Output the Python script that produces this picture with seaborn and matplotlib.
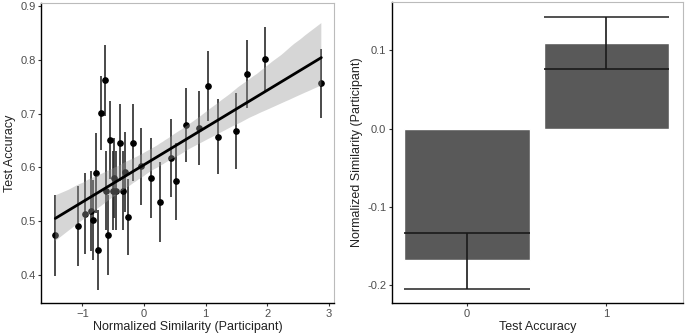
import matplotlib
matplotlib.use("Agg")
import matplotlib.pyplot as plt
import seaborn as sns
import numpy as np
import pandas as pd

# Painel esquerdo: similaridade normalizada x acurácia (média por item, barra de erro)
sim = [-1.44, -1.065, -0.957, -0.865, -0.83, -0.78, -0.74, -0.70, -0.64, -0.62,
       -0.59, -0.55, -0.51, -0.48, -0.46, -0.39, -0.34, -0.30, -0.265, -0.18,
       -0.04, 0.11, 0.265, 0.44, 0.52, 0.69, 0.90, 1.04, 1.21, 1.50,
       1.68, 1.96, 2.88]
acc = [0.474, 0.491, 0.514, 0.519, 0.502, 0.590, 0.447, 0.701, 0.762, 0.557,
       0.475, 0.651, 0.557, 0.580, 0.557, 0.646, 0.557, 0.591, 0.508, 0.646,
       0.602, 0.580, 0.536, 0.618, 0.574, 0.679, 0.673, 0.751, 0.657, 0.668,
       0.773, 0.801, 0.756]
acc_err = [0.075, 0.074, 0.075, 0.074, 0.074, 0.074, 0.074, 0.068, 0.066, 0.074,
           0.074, 0.072, 0.074, 0.074, 0.074, 0.071, 0.074, 0.074, 0.071, 0.071,
           0.072, 0.074, 0.074, 0.072, 0.071, 0.069, 0.069, 0.065, 0.070, 0.070,
           0.063, 0.060, 0.064]

# Painel direito: similaridade por acurácia no teste
grupos = ['0', '1']
barra = [-0.168, 0.109]
media = [-0.133, 0.076]
extremo = [-0.205, 0.143]

df_pts = pd.DataFrame({'sim': sim, 'acc': acc, 'err': acc_err})
df_bar = pd.DataFrame({'grupo': grupos, 'barra': barra, 'media': media, 'extremo': extremo})

sns.set_style("white")
plt.rcParams['font.family'] = ['Liberation Sans', 'DejaVu Sans']

fig = plt.figure(figsize=(6.85, 3.36), dpi=100)
ax1 = fig.add_axes([0.060, 0.098, 0.428, 0.893])
ax2 = fig.add_axes([0.572, 0.098, 0.425, 0.896])

# Esquerdo
ax1.errorbar(df_pts['sim'], df_pts['acc'], yerr=df_pts['err'], fmt='o',
             color='black', ecolor='#2b2b2b', elinewidth=1.2, markersize=3.8,
             capsize=0, zorder=2)
sns.regplot(data=df_pts, x='sim', y='acc', scatter=False, ax=ax1, seed=1,
            line_kws=dict(color='black', lw=2, zorder=5))
for c in ax1.collections:
    if c.__class__.__name__ in ('PolyCollection', 'FillBetweenPolyCollection'):
        c.set_facecolor('#999999')
        c.set_alpha(0.4)
        c.set_edgecolor('none')
        c.set_zorder(4)
ax1.set_xlim(-1.67, 3.09)
ax1.set_ylim(0.348, 0.9055)
ax1.set_xticks([-1, 0, 1, 2, 3])
ax1.set_yticks([0.4, 0.5, 0.6, 0.7, 0.8, 0.9])
ax1.set_xlabel('Normalized Similarity (Participant)', fontsize=9, color='#222222', labelpad=2)
ax1.set_ylabel('Test Accuracy', fontsize=9, color='#222222', labelpad=3)

# Direito
sns.barplot(data=df_bar, x='grupo', y='barra', color='#595959', width=0.9,
            saturation=1, ax=ax2, zorder=2)
for i, row in df_bar.iterrows():
    ax2.hlines(row['media'], i - 0.45, i + 0.45, color='#1a1a1a', lw=1.2, zorder=3)
    ax2.hlines(row['extremo'], i - 0.45, i + 0.45, color='#333333', lw=1.2, zorder=3)
    ax2.vlines(i, row['media'], row['extremo'], color='#1a1a1a', lw=1.2, zorder=3)
ax2.set_xlim(-0.54, 1.55)
ax2.set_ylim(-0.223, 0.162)
ax2.set_yticks([-0.2, -0.1, 0.0, 0.1])
ax2.set_yticklabels(['-0.2', '-0.1', '0.0', '0.1'])
ax2.set_xlabel('Test Accuracy', fontsize=9, color='#222222', labelpad=2)
ax2.set_ylabel('Normalized Similarity (Participant)', fontsize=9, color='#222222', labelpad=3)

for ax in (ax1, ax2):
    ax.tick_params(axis='both', labelsize=8, labelcolor='#4d4d4d', color='#333333',
                   length=2.5, width=0.8, pad=1.5, direction='out', left=True, bottom=True)
    for s in ('left', 'bottom'):
        ax.spines[s].set_color('black')
        ax.spines[s].set_linewidth(1.0)
    for s in ('top', 'right'):
        ax.spines[s].set_color('#bbbbbb')
        ax.spines[s].set_linewidth(0.8)
    ax.grid(False)

plt.savefig('out.png', dpi=100)
